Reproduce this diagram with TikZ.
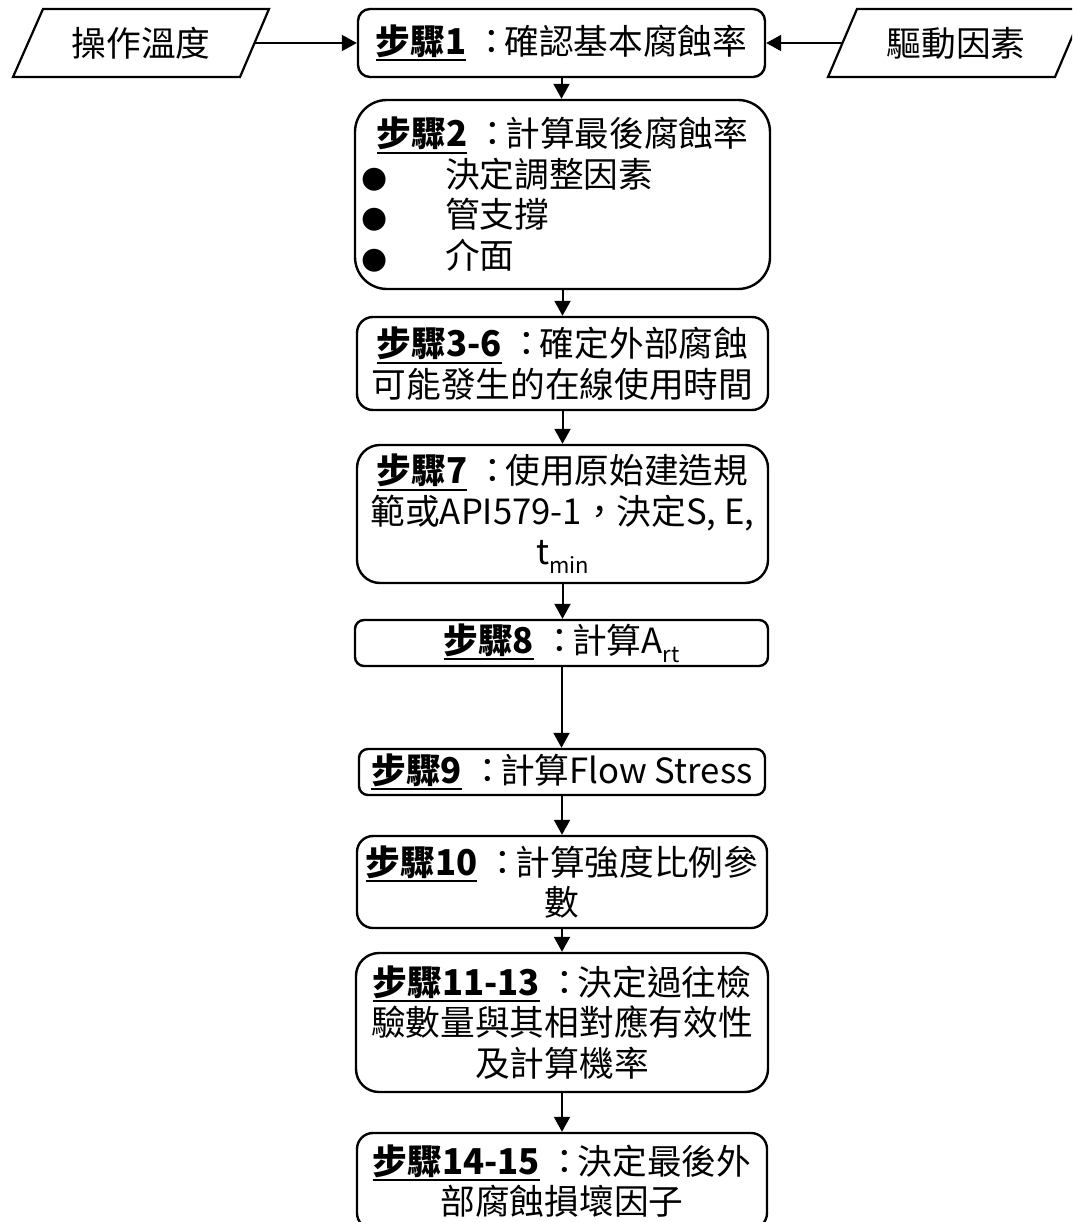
\documentclass[tikz,border=0pt]{standalone}
\usepackage{fontspec}
\setmainfont{Noto Sans CJK TC}[Script=CJK,Language=Chinese Traditional]
\newfontfamily\bulletfont{DejaVu Sans}
\usetikzlibrary{arrows.meta}
\newsavebox\ulbox
\newcommand\stepul[1]{\sbox\ulbox{\bfseries #1}\rlap{\rule[-7pt]{\wd\ulbox}{2pt}}\usebox\ulbox}
\newcommand\cc{\makebox[38pt][l]{\hspace{8pt}：}}
\newcommand\subtxt[1]{\raisebox{-9pt}{\fontsize{22}{22}\selectfont #1}}
\newcommand\bitem[1]{\makebox[400pt][l]{\makebox[25pt]{\bulletfont\fontsize{30}{30}\selectfont ●}\hspace{57.5pt}#1}}
\begin{document}
\begin{tikzpicture}[x=1pt,y=-1pt,
  every node/.style={font=\fontsize{34.7}{40.5}\selectfont},
  box/.style={draw, line width=2.4pt, align=center, inner sep=0pt},
  conn/.style={line width=2pt, -{Triangle[length=15pt,width=16pt]}},
  para/.style={line width=2.2pt, line join=miter}]
\useasboundingbox (0,0) rectangle (1072,1222);
\clip (0,0) rectangle (1072,1222);

% input parallelograms
\draw[para] (13,77) -- (43,9) -- (269,9) -- (240,77) -- cycle;
\node (in1) at (141,43) {操作溫度};
\coordinate (in1r) at (254.5,43);
\draw[para] (828,77) -- (857,9) -- (1084,9) -- (1055,77) -- cycle;
\node (in2) at (956,43) {驅動因素};
\coordinate (in2l) at (842.5,43);

% step boxes
\node[box, rounded corners=12pt, minimum width=407pt, minimum height=68pt] (b1) at (561.5,43)
  {\stepul{步驟1}\cc 確認基本腐蝕率};
\node[box, rounded corners=32pt, minimum width=415pt, minimum height=189pt] (b2) at (562.5,194.5)
  {\stepul{步驟2}\cc 計算最後腐蝕率\\ \bitem{決定調整因素}\\ \bitem{管支撐}\\ \bitem{介面}};
\node[box, rounded corners=16pt, minimum width=411pt, minimum height=93pt] (b3) at (562.5,363.5)
  {\stepul{步驟3-6}\cc 確定外部腐蝕\\可能發生的在線使用時間};
\node[box, rounded corners=23pt, minimum width=411pt, minimum height=138pt] (b4) at (562.5,514)
  {\stepul{步驟7}\cc 使用原始建造規\\範或API579-1，決定S, E,\\t\subtxt{min}};
\node[box, rounded corners=9pt, minimum width=413pt, minimum height=46pt] (b5) at (561.5,643)
  {\stepul{步驟8}\cc 計算A\subtxt{rt}};
\node[box, rounded corners=9pt, minimum width=406pt, minimum height=46pt] (b6) at (562,772)
  {\stepul{步驟9}\cc 計算Flow Stress};
\node[box, rounded corners=16pt, minimum width=410pt, minimum height=92pt] (b7) at (562,882)
  {\stepul{步驟10}\cc 計算強度比例參\\數};
\node[box, rounded corners=23pt, minimum width=412pt, minimum height=139pt] (b8) at (562,1022.5)
  {\stepul{步驟11-13}\cc 決定過往檢\\驗數量與其相對應有效性\\及計算機率};
\node[box, rounded corners=16pt, minimum width=410pt, minimum height=96pt] (b9) at (562,1181)
  {\stepul{步驟14-15}\cc 決定最後外\\部腐蝕損壞因子};

% connectors
\draw[conn] (in1r) -- (b1.west);
\draw[conn] (in2l) -- (b1.east);
\draw[conn] (b1.south) -- (b1.south |- b2.north);
\draw[conn] (b2.south) -- (b2.south |- b3.north);
\draw[conn] (b3.south) -- (b3.south |- b4.north);
\draw[conn] (b4.south) -- (b4.south |- b5.north);
\draw[conn] (b5.south) -- (b5.south |- b6.north);
\draw[conn] (b6.south) -- (b6.south |- b7.north);
\draw[conn] (b7.south) -- (b7.south |- b8.north);
\draw[conn] (b8.south) -- (b8.south |- b9.north);
\end{tikzpicture}
\end{document}
